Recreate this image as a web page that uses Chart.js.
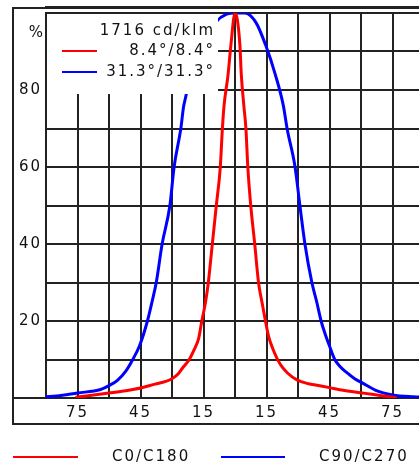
<!DOCTYPE html>
<html><head><meta charset="utf-8">
<script src="https://cdn.jsdelivr.net/npm/chart.js@4/dist/chart.umd.min.js"></script>
<style>html,body{margin:0;padding:0;background:#fff;overflow:hidden;width:419px;height:469px}canvas{display:block}</style>
</head><body>
<canvas id="c" width="430" height="469"></canvas>
<script>
// C0/C180 (red) : angle (deg) -> relative intensity (%)
const redAngles = [-76,-70,-60,-52,-45,-38,-33,-30,-27,-25,-22,-19.5,-17.3,-15.8,-14,-12.7,-10.8,-8.9,-7,-6,-5.2,-3.3,-1.9,0,2.3,3,4.2,5.2,6.1,7.5,9.4,11.2,12.8,14.5,16,18,20,22,25,29.5,35,39,45,51.5,62,70,75,77];
const redValues = [0.2,0.6,1.3,1.9,2.6,3.6,4.3,5,6.3,7.8,9.8,12.5,15.5,20,25,30,40,50,60,70,76,84,92,100,92,84,76,70,60,50,40,30,25,20,16,12.8,10.3,8.4,6.5,4.7,3.7,3.3,2.7,2,1.2,0.6,0.2,0];
// C90/C270 (blue)
const blueAngles = [-90,-85,-75,-64,-60,-56,-52,-49,-45.5,-41.7,-39.5,-37.5,-34.7,-31,-29,-25.8,-24.4,-20,-15,-9,-4,0,4.7,10,14.5,19.2,23,24.8,28.6,30.9,33.3,36.6,38.9,41,43,45,47.5,50,53,57,61,67,75,85,90];
const blueValues = [0.3,0.5,1.3,2.2,3.2,4.6,7,9.7,13.5,20,25,30,40,50,60,70,76,84,92,97.7,99.7,100,100,97.5,91.8,84,76,70,60,50,40,30,25,20,16.5,13.5,10,8.2,6.7,5,3.8,2,0.8,0.3,0.2];
const xLabelTicks = [-75,-45,-15,15,45,75];
const yLabelTicks = [20,40,60,80];
const seriesNames = ['C0/C180','C90/C270'];
const seriesColors = ['#ff0000','#0000ff'];
const infoTitle = '1716 cd/klm';
const infoAngles = ['8.4°/8.4°','31.3°/31.3°'];
const yUnit = '%';

const FONT = '15px "DejaVu Sans"';
const INK = '#111';
const GRID = '#222';

const framePlugin = {
  id: 'frame',
  beforeDraw(chart) {
    chart.ctx.letterSpacing = '2px';
  },
  afterDatasetsDraw(chart) {
    const ctx = chart.ctx;
    const a = chart.chartArea;
    ctx.save();
    ctx.letterSpacing = '2px';
    // info box (covers grid and curves)
    ctx.fillStyle = '#fff';
    ctx.fillRect(a.left + 1, a.top + 1, 171, 80);
    ctx.font = FONT;
    ctx.fillStyle = INK;
    ctx.textBaseline = 'middle';
    ctx.textAlign = 'right';
    ctx.fillText(infoTitle, 215, 31);
    ctx.fillText(infoAngles[0], 215, 51);
    ctx.fillText(infoAngles[1], 215, 72);
    ctx.lineWidth = 2;
    ctx.strokeStyle = seriesColors[0];
    ctx.beginPath(); ctx.moveTo(62, 51); ctx.lineTo(97, 51); ctx.stroke();
    ctx.strokeStyle = seriesColors[1];
    ctx.beginPath(); ctx.moveTo(62, 72); ctx.lineTo(97, 72); ctx.stroke();
    ctx.restore();
  },
  afterDraw(chart) {
    const ctx = chart.ctx;
    const a = chart.chartArea;
    const W = chart.width;
    ctx.save();
    ctx.strokeStyle = GRID;
    ctx.lineWidth = 2;
    // outer frame
    ctx.beginPath();
    ctx.moveTo(13, 7); ctx.lineTo(13, 425);
    ctx.moveTo(12, 424); ctx.lineTo(W, 424);
    ctx.moveTo(12, 8); ctx.lineTo(a.left, 8);
    ctx.moveTo(12, a.bottom); ctx.lineTo(a.left, a.bottom);
    ctx.stroke();
    ctx.lineWidth = 3;
    ctx.beginPath(); ctx.moveTo(a.left - 1, 7.5); ctx.lineTo(W, 7.5); ctx.stroke();
    // unit label
    ctx.letterSpacing = '2px';
    ctx.font = FONT;
    ctx.fillStyle = INK;
    ctx.textAlign = 'right';
    ctx.textBaseline = 'middle';
    ctx.fillText(yUnit, 45, 33);
    // bottom legend
    ctx.textAlign = 'left';
    ctx.lineWidth = 2;
    ctx.strokeStyle = seriesColors[0];
    ctx.beginPath(); ctx.moveTo(13, 457); ctx.lineTo(78, 457); ctx.stroke();
    ctx.fillText(seriesNames[0], 112, 457);
    ctx.strokeStyle = seriesColors[1];
    ctx.beginPath(); ctx.moveTo(221, 457); ctx.lineTo(285, 457); ctx.stroke();
    ctx.fillText(seriesNames[1], 319, 457);
    ctx.restore();
  }
};

const gridOpts = { color: GRID, lineWidth: 2, drawTicks: false };
const borderOpts = { color: GRID, width: 2 };

new Chart(document.getElementById('c'), {
  type: 'line',
  data: {
    datasets: [
      { label: seriesNames[0], data: redAngles.map((x, i) => ({ x, y: redValues[i] })),
        borderColor: seriesColors[0], borderWidth: 3, pointRadius: 0, cubicInterpolationMode: 'monotone' },
      { label: seriesNames[1], data: blueAngles.map((x, i) => ({ x, y: blueValues[i] })),
        borderColor: seriesColors[1], borderWidth: 3, pointRadius: 0, cubicInterpolationMode: 'monotone' }
    ]
  },
  options: {
    responsive: false,
    animation: false,
    layout: { padding: { left: 13, top: 8, right: 1, bottom: 45 } },
    plugins: { legend: { display: false }, tooltip: { enabled: false } },
    scales: {
      x: {
        type: 'linear', min: -90, max: 90,
        grid: gridOpts, border: borderOpts,
        afterFit(s) { s.height = 26; },
        ticks: {
          stepSize: 15, autoSkip: false, maxRotation: 0, padding: 6,
          font: { family: 'DejaVu Sans', size: 15 }, color: INK,
          callback: v => xLabelTicks.includes(v) ? String(Math.abs(v)) : ''
        }
      },
      y: {
        min: 0, max: 100,
        grid: gridOpts, border: borderOpts,
        afterFit(s) { s.width = 33; },
        ticks: {
          stepSize: 10, autoSkip: false, padding: 4,
          font: { family: 'DejaVu Sans', size: 15 }, color: INK,
          callback: v => yLabelTicks.includes(v) ? String(v) : ''
        }
      }
    }
  },
  plugins: [framePlugin]
});
</script>
</body></html>
